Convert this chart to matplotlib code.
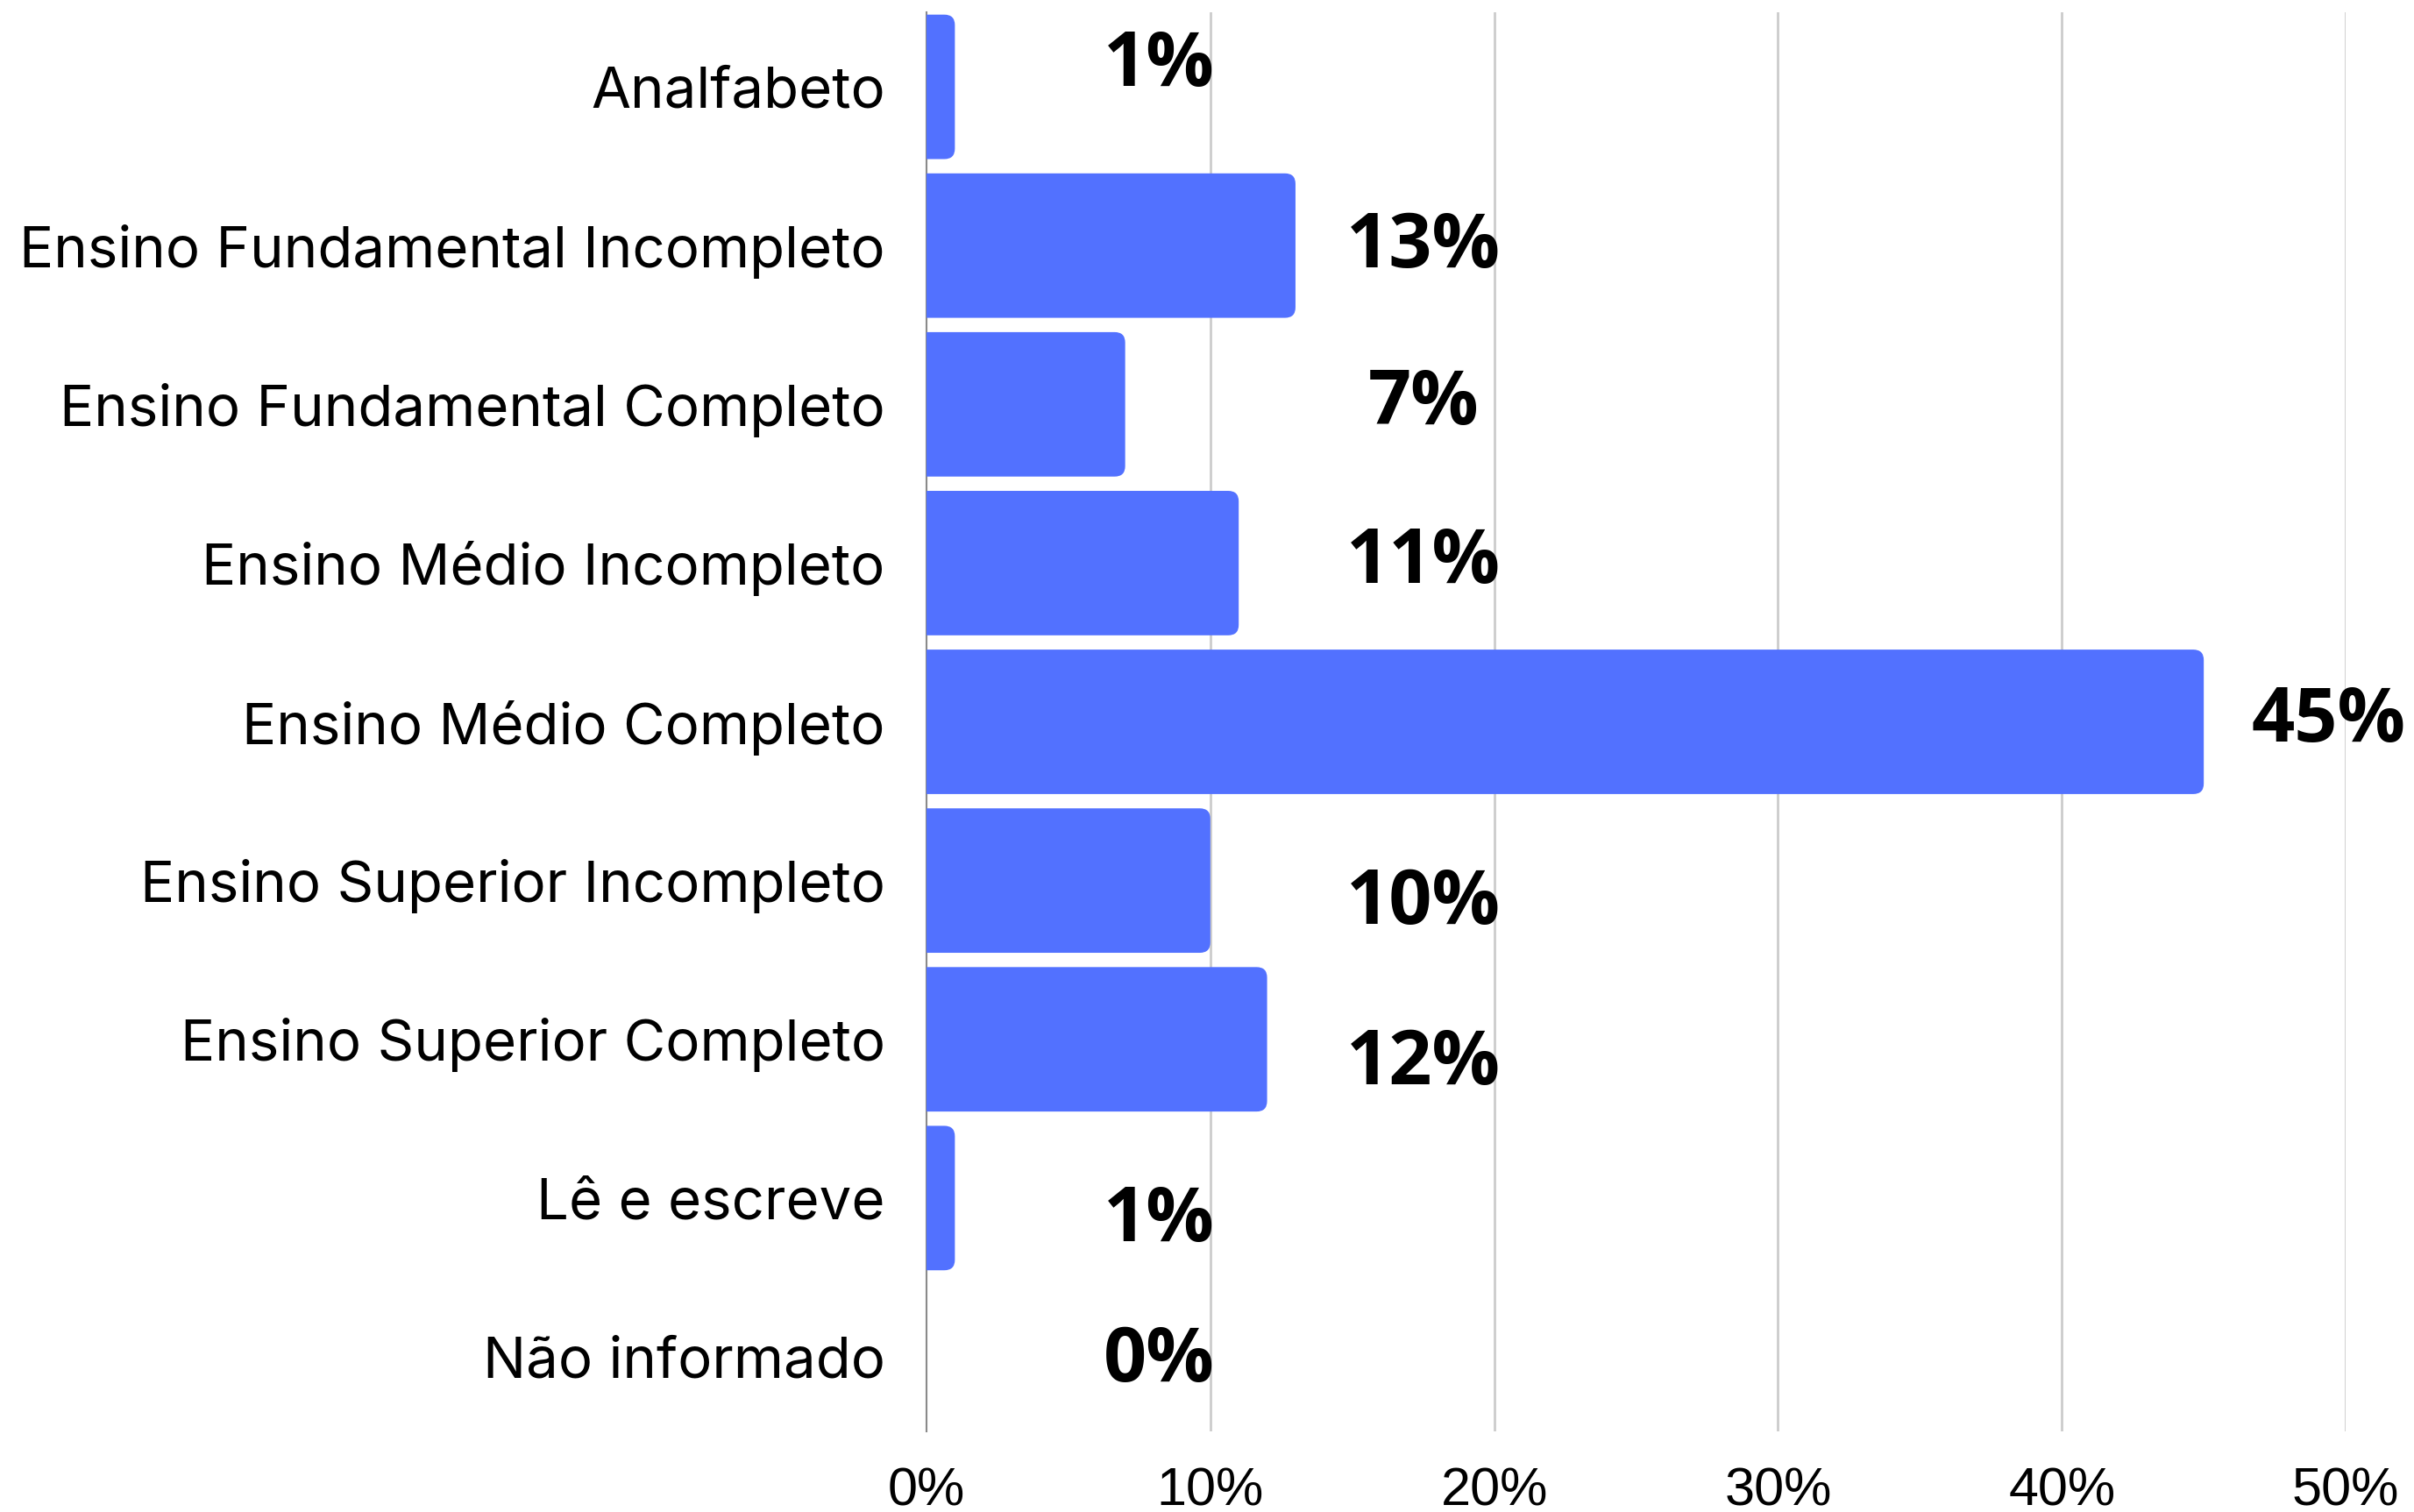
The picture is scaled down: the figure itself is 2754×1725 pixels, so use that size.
import matplotlib
matplotlib.use("Agg")
import matplotlib.pyplot as plt
from matplotlib.patches import PathPatch
from matplotlib.path import Path
from matplotlib.ticker import FuncFormatter

categories = [
    "Analfabeto",
    "Ensino Fundamental Incompleto",
    "Ensino Fundamental Completo",
    "Ensino Médio Incompleto",
    "Ensino Médio Completo",
    "Ensino Superior Incompleto",
    "Ensino Superior Completo",
    "Lê e escreve",
    "Não informado",
]
values = [1, 13, 7, 11, 45, 10, 12, 1, 0]
x_ticks = [0, 10, 20, 30, 40, 50]

# label layout (vertical nudge in row units)
label_dy = [-0.13, 0.01, 0.0, 0.0, 0.0, 0.15, 0.16, 0.15, 0.03]

BAR = "#5271FF"
W, H, DPI = 27.54, 17.25, 100
fig = plt.figure(figsize=(W, H), dpi=DPI)
ax = fig.add_axes([0.3838, 0.0533, 0.9717 - 0.3838, 0.9919 - 0.0533])

n = len(categories)
ax.set_xlim(0, 50)
ax.set_ylim(n - 1 + 0.47, -0.47)

bar_h = 0.91
px_per_x = (0.9717 - 0.3838) * W * DPI / 50
px_per_y = (0.9919 - 0.0533) * H * DPI / (n - 1 + 0.94)
r_px = 12
rx = r_px / px_per_x
ry = r_px / px_per_y


def right_rounded_bar(v, yc, h):
    y0, y1 = yc - h / 2, yc + h / 2
    r = min(rx, v)
    verts = [(0, y0), (v - r, y0), (v, y0), (v, y0 + ry),
             (v, y1 - ry), (v, y1), (v - r, y1), (0, y1), (0, y0)]
    codes = [Path.MOVETO, Path.LINETO, Path.CURVE3, Path.CURVE3,
             Path.LINETO, Path.CURVE3, Path.CURVE3, Path.LINETO,
             Path.CLOSEPOLY]
    return Path(verts, codes)


for i, v in enumerate(values):
    if v <= 0:
        continue
    ax.add_patch(PathPatch(right_rounded_bar(v, i, bar_h), facecolor=BAR,
                           edgecolor="none", zorder=3))

for i, v in enumerate(values):
    if v < 5:
        xc = 8.2
    elif v < 20:
        xc = 17.5
    else:
        xc = v + 4.4
    ax.text(xc, i + label_dy[i], f"{v}%", ha="center", va="center",
            fontsize=62, fontweight="bold", family="Open Sans",
            color="black", zorder=4)

ax.set_yticks(range(n))
ax.set_yticklabels(categories, family="Inter", fontsize=47)
ax.set_xticks(x_ticks)
ax.xaxis.set_major_formatter(FuncFormatter(lambda x, p: f"{x:.0f}%"))
for lab in ax.get_xticklabels():
    lab.set_family("Liberation Sans")
    lab.set_fontsize(44)

ax.tick_params(axis="y", length=0, pad=34)
ax.tick_params(axis="x", length=0, pad=29)

for s in ["top", "right", "bottom"]:
    ax.spines[s].set_visible(False)
ax.spines["left"].set_color("#8a8a8a")
ax.spines["left"].set_linewidth(1.5)
ax.spines["left"].set_zorder(2)

for t in x_ticks[1:]:
    ax.axvline(t, color="#cccccc", linewidth=2, zorder=1)

fig.savefig("out.png", dpi=DPI, facecolor="white")
